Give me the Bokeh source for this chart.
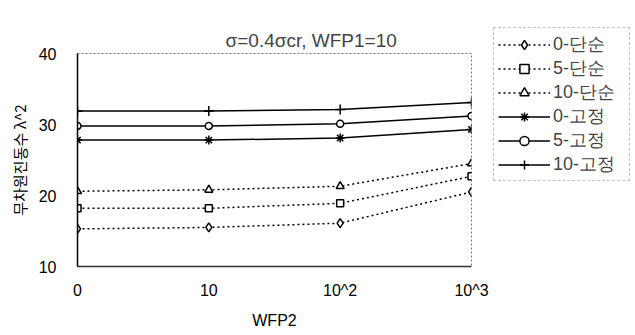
from bokeh.plotting import figure
from bokeh.models import Legend, LegendItem, Range1d, FixedTicker
from bokeh.embed import file_html
from bokeh.resources import INLINE

x_labels = ["0", "10", "10^2", "10^3"]
s0_simple = [15.3, 15.5, 16.1, 20.5]
s5_simple = [18.2, 18.2, 18.9, 22.7]
s10_simple = [20.6, 20.8, 21.3, 24.5]
s0_fixed = [27.8, 27.8, 28.1, 29.3]
s5_fixed = [29.8, 29.8, 30.1, 31.2]
s10_fixed = [31.9, 31.9, 32.1, 33.1]
series_names = ["0-단순", "5-단순", "10-단순", "0-고정", "5-고정", "10-고정"]
y_ticks = [10, 20, 30, 40]
title_text = "σ=0.4σcr, WFP1=10"

FONT = "'Liberation Sans', 'Noto Sans CJK KR'"
xs = list(range(len(x_labels)))

p = figure(frame_width=394, frame_height=213, output_backend="svg", toolbar_location=None,
           x_range=Range1d(xs[0], xs[-1]), y_range=Range1d(y_ticks[0], y_ticks[-1]),
           min_border_left=77, min_border_right=161, min_border_top=53, min_border_bottom=66)
p.title.text = title_text
p.title.text_font = FONT
p.title.text_font_size = "19px"
p.title.text_font_style = "normal"
p.title.align = "left"
p.title.offset = 148
p.title.standoff = 5
p.grid.visible = False
p.outline_line_color = "#777777"
p.outline_line_dash = "2 2"
p.outline_line_width = 1
p.background_fill_color = "white"
p.border_fill_color = "white"

p.xaxis.ticker = FixedTicker(ticks=xs)
p.xaxis.major_label_overrides = {i: lab for i, lab in zip(xs, x_labels)}
p.yaxis.ticker = FixedTicker(ticks=y_ticks)
for ax in (p.xaxis[0], p.yaxis[0]):
    ax.major_tick_out = 0
    ax.major_tick_in = 0
    ax.minor_tick_out = 0
    ax.minor_tick_in = 0
    ax.major_label_text_font = FONT
    ax.major_label_text_font_size = "16px"
    ax.major_label_text_color = "black"
    ax.axis_label_text_font = FONT
    ax.axis_label_text_font_size = "16px"
    ax.axis_label_text_font_style = "normal"
    ax.axis_label_text_color = "black"
p.yaxis.axis_label_text_font = "Noto Sans CJK KR"
p.yaxis.axis_label_text_font_size = "15px"
p.yaxis.axis_line_color = "black"
p.yaxis.axis_line_width = 1.5
p.xaxis.axis_line_color = "#333333"
p.xaxis.axis_line_width = 1.5
p.xaxis.major_label_standoff = 15
p.yaxis.major_label_standoff = 21
p.xaxis.axis_label = "WFP2"
p.xaxis.axis_label_standoff = 10
p.yaxis.axis_label = "무차원진동수 λ^2"
p.yaxis.axis_label_standoff = 6

simple = [s0_simple, s5_simple, s10_simple]
fixed = [s0_fixed, s5_fixed, s10_fixed]
markers_simple = [("diamond", 9), ("square", 7), ("triangle", 8)]
markers_fixed = [("asterisk", 9), ("circle", 7), ("cross", 10)]

items = []
for name, ys, (mk, sz) in zip(series_names[:3], simple, markers_simple):
    ln = p.line(xs, ys, line_color="black", line_width=1.5, line_dash="2 3")
    sc = p.scatter(xs, ys, marker=mk, size=sz, line_color="black", fill_color="white", line_width=1.5)
    items.append(LegendItem(label=name, renderers=[ln, sc]))
for name, ys, (mk, sz) in zip(series_names[3:], fixed, markers_fixed):
    ln = p.line(xs, ys, line_color="black", line_width=1.5)
    sc = p.scatter(xs, ys, marker=mk, size=sz, line_color="black", fill_color="white", line_width=1.5)
    items.append(LegendItem(label=name, renderers=[ln, sc]))

legend = Legend(items=items, location=(22, 85), orientation="vertical",
                label_text_font="Liberation Sans", label_text_font_size="18px",
                label_text_line_height=0.9,
                glyph_width=52, glyph_height=23, label_height=23, label_width=72,
                label_standoff=3, spacing=0, padding=4, margin=0,
                border_line_color="#888888", border_line_dash="1 2",
                background_fill_color="white", background_fill_alpha=1)
p.add_layout(legend, "right")

open("out.html", "w").write(file_html(p, INLINE))
